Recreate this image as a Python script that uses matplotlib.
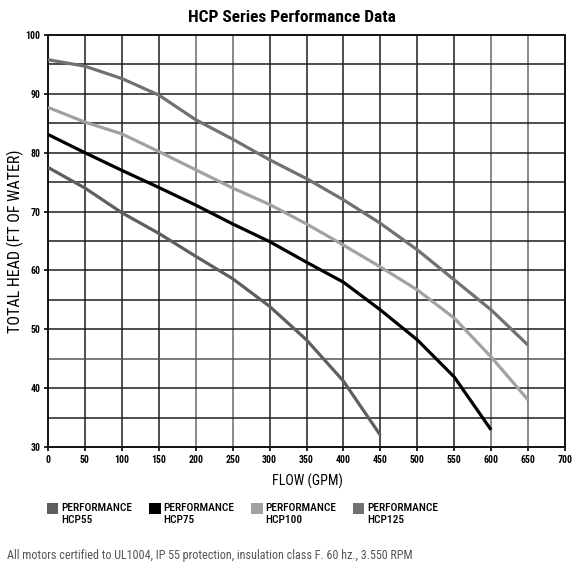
import numpy as np
import matplotlib.pyplot as plt
from matplotlib.patches import Rectangle

# Data (flow in GPM, head in ft of water)
flow_55 = [0, 50, 100, 150, 200, 250, 300, 350, 400, 450]
head_55 = [77.5, 74.0, 69.8, 66.3, 62.4, 58.6, 53.9, 48.2, 41.2, 32.0]

flow_75 = [0, 50, 100, 150, 200, 250, 300, 350, 400, 450, 500, 550, 600]
head_75 = [83.1, 80.0, 77.0, 74.1, 71.1, 67.9, 64.9, 61.4, 58.0, 53.3, 48.2, 41.9, 32.9]

flow_100 = [0, 50, 100, 150, 200, 250, 300, 350, 400, 450, 500, 550, 600, 650]
head_100 = [87.7, 85.2, 83.2, 80.2, 77.1, 74.0, 71.2, 67.9, 64.3, 60.6, 56.7, 51.9, 45.3, 38.0]

flow_125 = [0, 50, 100, 150, 200, 250, 300, 350, 400, 450, 500, 550, 600, 650]
head_125 = [95.8, 94.7, 92.6, 89.8, 85.6, 82.3, 78.8, 75.6, 72.0, 68.0, 63.5, 58.4, 53.3, 47.3]

series_names = ["PERFORMANCE\nHCP55", "PERFORMANCE\nHCP75", "PERFORMANCE\nHCP100", "PERFORMANCE\nHCP125"]
series_colors = ["#5e5e5e", "#000000", "#a2a2a2", "#717171"]

x_ticks = np.arange(0, 701, 50)
y_ticks = np.arange(30, 101, 10)

plt.rcParams['font.family'] = ["Roboto Condensed", "Archivo Narrow", "DejaVu Sans"]

W, H = 572, 567
fig = plt.figure(figsize=(W / 100, H / 100), dpi=100, facecolor="white")
ax = fig.add_axes([48 / W, 1 - 447 / H, 517 / W, 412 / H])

# grid, every 50 gpm and every 5 ft (a few lines print lighter in the original)
light_x = {200, 250, 600, 650}
for xv in x_ticks[1:-1]:
    ax.axvline(xv, color="#6a6a6a" if xv in light_x else "#1e1e1e", lw=1.1, zorder=1)
for yv in np.arange(35, 100, 5):
    ax.axhline(yv, color="#555555" if yv == 45 else "#1e1e1e", lw=1.1, zorder=1)

flows = [flow_55, flow_75, flow_100, flow_125]
heads = [head_55, head_75, head_100, head_125]
for fl, hd, c in zip(flows, heads, series_colors):
    ax.plot(fl, hd, color=c, lw=2.3, zorder=3, solid_capstyle="butt")

ax.set_xlim(0, 700)
ax.set_ylim(30, 100)
ax.set_xticks(x_ticks)
ax.set_yticks(y_ticks)
for sp in ax.spines.values():
    sp.set_linewidth(1.4)
    sp.set_color("#111111")
ax.tick_params(direction="out", length=3, width=1.2, pad=2.5, labelsize=7)
for lab in ax.get_xticklabels() + ax.get_yticklabels():
    lab.set_fontweight("bold")

fig.text(292 / W, 1 - 17 / H, "HCP Series Performance Data", ha="center", va="center",
         fontsize=12.5, fontweight="bold")
fig.text(15 / W, 1 - 241 / H, "TOTAL HEAD (FT OF WATER)", rotation=90, ha="center", va="center",
         fontsize=11.5)
fig.text(307 / W, 1 - 481 / H, "FLOW (GPM)", ha="center", va="center", fontsize=10)

# legend: square swatch + two-line label, four columns
for i, (name, c) in enumerate(zip(series_names, series_colors)):
    x0 = 47 + i * 102
    fig.add_artist(Rectangle((x0 / W, 1 - 514 / H), 11.5 / W, 11 / H,
                             transform=fig.transFigure, facecolor=c, edgecolor="none"))
    fig.text((x0 + 14) / W, 1 - 503 / H, name, ha="left", va="top", fontsize=8.2,
             fontweight="medium", linespacing=1.2)

fig.text(7 / W, 1 - 555 / H,
         "All motors certified to UL1004, IP 55 protection, insulation class F. 60 hz., 3.550 RPM",
         ha="left", va="center", fontsize=8.7, color="#555555")

fig.savefig("out.png", dpi=100, facecolor="white")
